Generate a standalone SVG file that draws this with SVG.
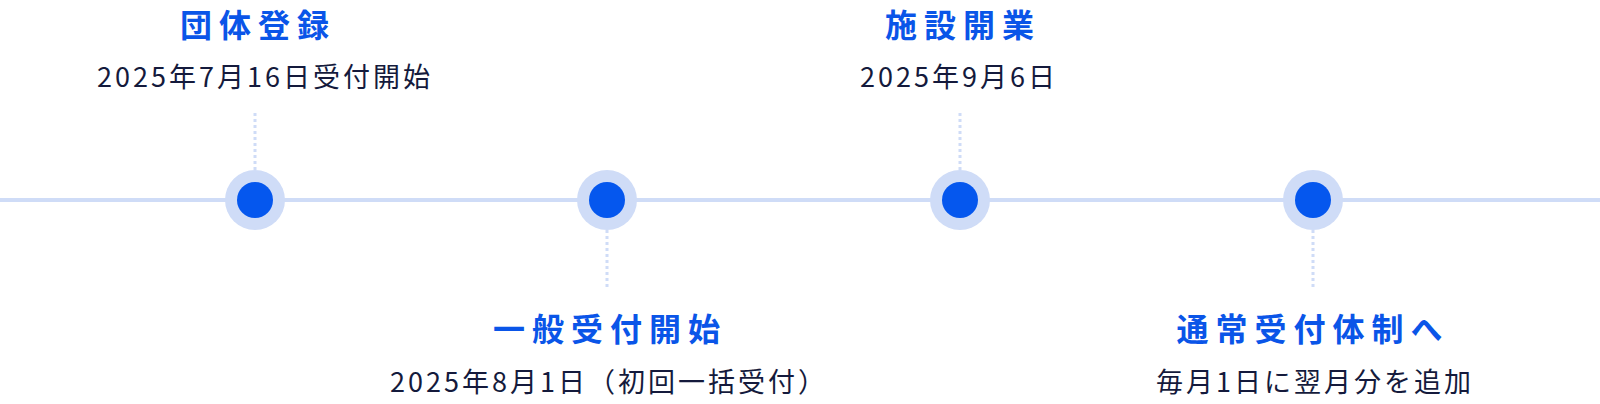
<svg xmlns="http://www.w3.org/2000/svg" width="1600" height="404" viewBox="0 0 1600 404">
<style>
.t{font-family:"Noto Sans CJK JP","Noto Sans",sans-serif;font-weight:700;font-size:32px;letter-spacing:7px;fill:#0a55e8;text-anchor:middle}
.s{font-family:"Noto Sans CJK JP","Noto Sans",sans-serif;font-size:27px;letter-spacing:3px;fill:#141a3c;text-anchor:middle}
.d{stroke:#cfdcf7;stroke-width:3;stroke-dasharray:3 3}
.o{fill:#cfdcf7}.i{fill:#0557ee}
</style>
<rect width="1600" height="404" fill="#fff"/>
<g id="connectors">
<line x1="0" y1="200" x2="1600" y2="200" stroke="#cfdcf7" stroke-width="4"/>
<line class="d" x1="255" y1="113" x2="255" y2="172"/>
<line class="d" x1="607" y1="230" x2="607" y2="289"/>
<line class="d" x1="960" y1="113" x2="960" y2="172"/>
<line class="d" x1="1313" y1="230" x2="1313" y2="289"/>
</g>
<g id="n1"><circle class="o" cx="255" cy="200" r="30"/><circle class="i" cx="255" cy="200" r="18"/>
<text class="t" x="258" y="37">団体登録</text><text class="s" x="265" y="87">2025年7月16日受付開始</text></g>
<g id="n2"><circle class="o" cx="607" cy="200" r="30"/><circle class="i" cx="607" cy="200" r="18"/>
<text class="t" x="610" y="341">一般受付開始</text><text class="s" x="609" y="392">2025年8月1日（初回一括受付）</text></g>
<g id="n3"><circle class="o" cx="960" cy="200" r="30"/><circle class="i" cx="960" cy="200" r="18"/>
<text class="t" x="963" y="37">施設開業</text><text class="s" x="959" y="87">2025年9月6日</text></g>
<g id="n4"><circle class="o" cx="1313" cy="200" r="30"/><circle class="i" cx="1313" cy="200" r="18"/>
<text class="t" x="1313" y="341">通常受付体制へ</text><text class="s" x="1315" y="392">毎月1日に翌月分を追加</text></g>
</svg>
